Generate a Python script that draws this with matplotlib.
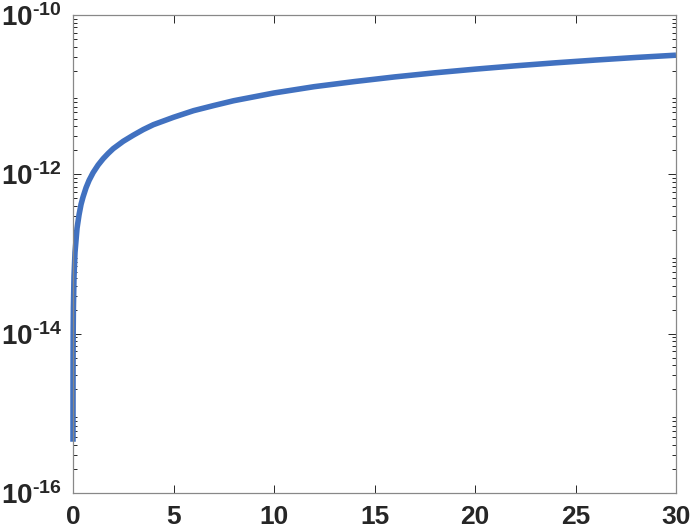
import matplotlib
matplotlib.use("Agg")
import matplotlib.pyplot as plt
from matplotlib.ticker import LogLocator, FixedLocator, NullFormatter

plt.rcParams['font.family'] = ['Liberation Sans', 'DejaVu Sans']
plt.rcParams['font.weight'] = 'bold'
plt.rcParams['mathtext.fontset'] = 'custom'
plt.rcParams['mathtext.rm'] = 'Liberation Sans:bold'
plt.rcParams['mathtext.bf'] = 'Liberation Sans:bold'
plt.rcParams['mathtext.default'] = 'bf'

# values (error grows about linearly with t)
t = [0.0004, 0.002, 0.005, 0.01, 0.02, 0.05, 0.1, 0.2, 0.3, 0.4, 0.5, 0.65,
     0.8, 1.0, 1.25, 1.5, 1.75, 2.0, 2.5, 3.0, 3.5, 4.0, 5.0, 6.0, 7.0, 8.0,
     10.0, 12.0, 14.0, 16.0, 18.0, 20.0, 22.0, 24.0, 26.0, 28.0, 30.0]
err = [4.4e-16, 2.1e-15, 5.2e-15, 1.05e-14, 2.1e-14, 5.2e-14, 1.05e-13,
       2.1e-13, 3.1e-13, 4.2e-13, 5.2e-13, 6.8e-13, 8.4e-13, 1.05e-12,
       1.31e-12, 1.57e-12, 1.83e-12, 2.1e-12, 2.6e-12, 3.1e-12, 3.65e-12,
       4.2e-12, 5.2e-12, 6.3e-12, 7.3e-12, 8.4e-12, 1.05e-11, 1.26e-11,
       1.46e-11, 1.67e-11, 1.88e-11, 2.09e-11, 2.3e-11, 2.51e-11, 2.72e-11,
       2.93e-11, 3.13e-11]
xticks = [0, 5, 10, 15, 20, 25, 30]
yticks = [1e-16, 1e-14, 1e-12, 1e-10]
yexp = [16, 14, 12, 10]

fig = plt.figure(figsize=(6.91, 5.28), dpi=100)
ax = fig.add_axes([73 / 691, 35 / 528, 603 / 691, 478 / 528])

# not clipped: the steep start sits right on the left axis line
ax.semilogy(t, err, color='#4171c0', lw=4, solid_capstyle='butt',
            clip_on=False)

ax.set_xlim(0, 30)
ax.set_ylim(1e-16, 1e-10)
ax.xaxis.set_major_locator(FixedLocator(xticks))
ax.yaxis.set_major_locator(FixedLocator(yticks))
ax.yaxis.set_minor_locator(LogLocator(base=10, subs=range(2, 10), numticks=20))
ax.yaxis.set_minor_formatter(NullFormatter())
# short hyphen like the original instead of the wide math minus
ax.set_yticklabels([r'$10^{\text{-}%d}$' % e for e in yexp])

ax.tick_params(which='both', direction='in', top=True, right=True,
               color='#262626', labelcolor='#262626', width=0.7)
ax.tick_params(which='major', length=6)
ax.tick_params(which='minor', length=3)
ax.tick_params(axis='x', labelsize=19, pad=9)
ax.tick_params(axis='y', labelsize=20, pad=8)
for s in ax.spines.values():
    s.set_color('#888888')
    s.set_linewidth(0.9)

fig.savefig('out.png', dpi=100)
